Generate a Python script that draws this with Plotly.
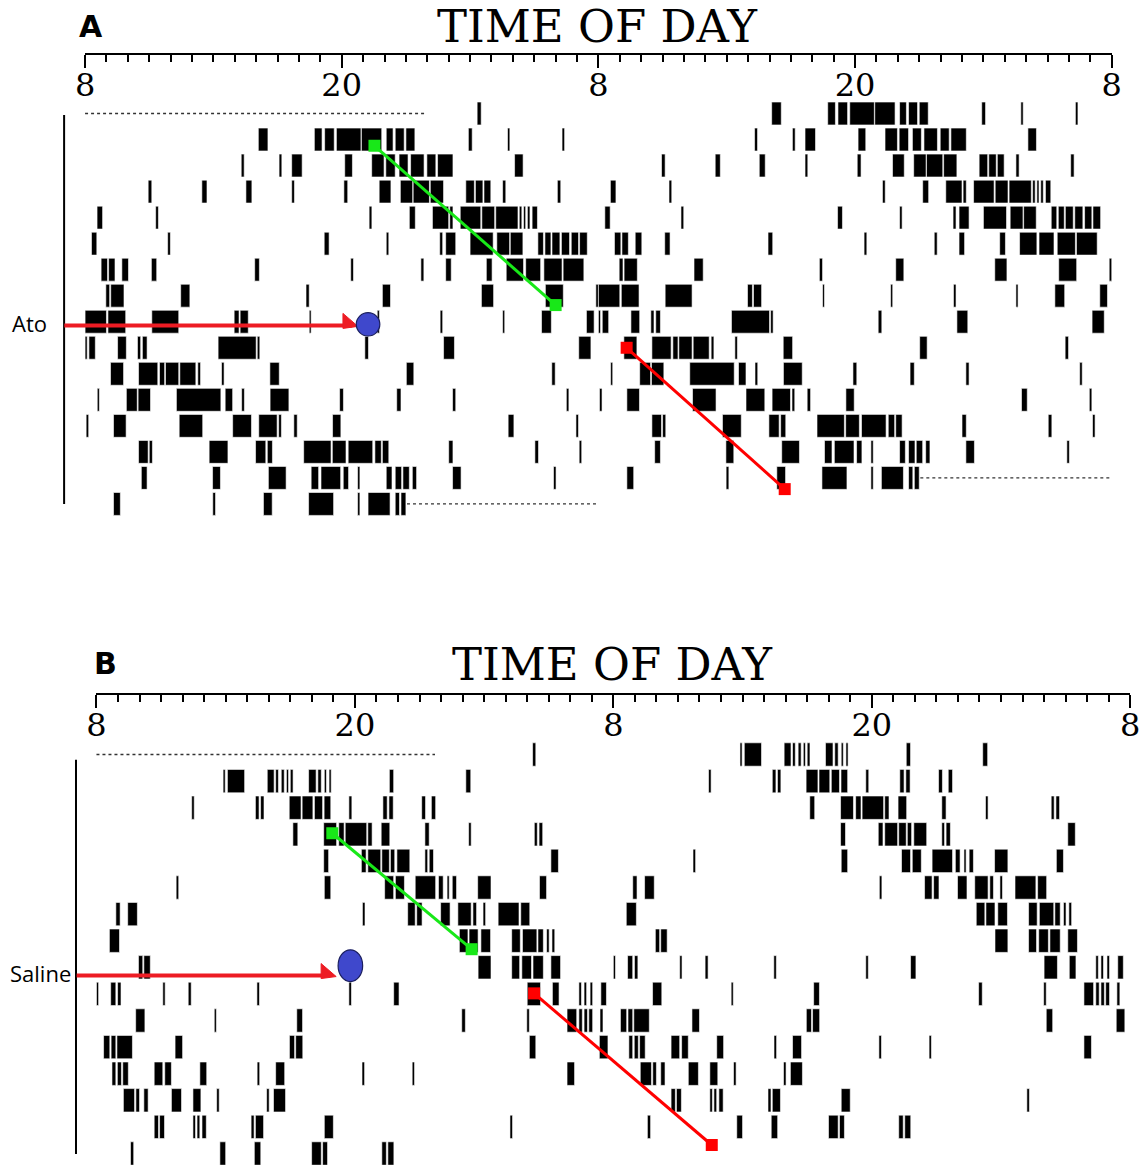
import plotly.graph_objects as go

W, H = 1144, 1165

# ---------------------------------------------------------------------------
# Activity bouts, one list per recorded day: [start, end] in hours after 08:00
# ---------------------------------------------------------------------------
# Panel A - atomoxetine animal
ato_d00 = [[18.33, 18.52]]
ato_d01 = [[8.1, 8.55], [10.72, 11.08], [11.2, 11.65], [11.75, 12.9], [12.92, 13.87], [14.08, 14.4],
           [14.5, 14.92], [15.0, 15.42], [17.92, 18.1], [19.75, 19.86], [22.3, 22.42]]
ato_d02 = [[7.3, 7.44], [9.07, 9.2], [9.66, 10.15], [12.14, 12.5], [13.4, 13.98], [14.06, 14.5],
           [14.68, 15.1], [15.22, 15.85], [15.98, 16.4], [16.48, 17.2], [20.08, 20.48]]
ato_d03 = [[2.95, 3.12], [5.46, 5.7], [7.52, 7.8], [9.66, 9.79], [12.1, 12.28], [13.75, 14.3],
           [14.74, 15.32], [15.34, 16.1], [16.14, 16.76], [17.8, 18.2], [18.25, 18.6], [18.65, 18.97],
           [19.52, 19.67], [22.08, 22.24]]
ato_d04 = [[0.56, 0.82], [3.3, 3.43], [13.28, 13.41], [15.16, 15.44], [16.24, 17.0], [17.05, 17.2],
           [17.54, 18.5], [18.55, 19.15], [19.2, 20.24], [20.3, 20.42], [20.5, 20.6], [20.68, 20.8],
           [20.9, 21.15]]
ato_d05 = [[0.3, 0.55], [3.86, 3.99], [11.18, 11.41], [14.08, 14.2], [16.58, 16.72], [16.86, 17.33],
           [18.0, 19.08], [19.25, 19.85], [19.88, 20.47], [21.17, 21.43], [21.5, 21.78], [21.83, 22.2],
           [22.27, 22.65], [22.73, 23.07], [23.12, 23.48]]
ato_d06 = [[0.75, 1.05], [1.1, 1.4], [1.72, 2.03], [3.1, 3.35], [7.93, 8.15], [12.42, 12.55],
           [15.7, 15.84], [16.86, 17.12], [18.76, 19.03], [19.69, 20.5], [20.6, 21.3], [21.45, 22.3],
           [22.35, 23.32]]
ato_d07 = [[0.97, 1.15], [1.2, 1.82], [4.47, 4.9], [10.33, 10.48], [13.9, 14.28], [18.53, 19.1],
           [21.52, 22.36], [23.88, 24.0]]
ato_d08 = [[0.0, 1.0], [1.07, 1.9], [3.12, 4.38], [6.97, 7.2], [7.25, 7.63], [10.48, 10.57],
           [13.66, 13.76], [16.6, 16.72], [19.52, 19.62], [21.34, 21.8], [23.44, 23.8]]
ato_d09 = [[0.0, 0.1], [0.18, 0.48], [1.52, 1.93], [2.45, 2.6], [2.68, 2.9], [6.22, 8.0],
           [8.05, 8.17], [13.08, 13.25], [16.76, 17.27], [23.08, 23.65]]
ato_d10 = [[1.19, 1.8], [2.5, 3.4], [3.48, 3.72], [3.76, 4.38], [4.43, 5.18], [5.27, 5.4],
           [6.38, 6.5], [8.64, 9.08], [15.02, 15.37], [21.82, 21.98]]
ato_d11 = [[0.57, 0.67], [1.93, 2.44], [2.48, 3.06], [4.27, 6.35], [6.55, 6.9], [7.32, 7.45],
           [8.65, 9.53], [11.9, 12.08], [14.57, 14.77], [17.18, 17.33], [22.5, 22.62]]
ato_d12 = [[0.05, 0.17], [1.33, 1.92], [4.4, 5.5], [6.9, 7.78], [8.12, 8.98], [9.05, 9.18],
           [9.76, 9.92], [11.57, 11.96], [19.78, 20.05], [22.95, 23.07]]
ato_d13 = [[2.5, 2.95], [3.0, 3.15], [5.8, 6.68], [7.97, 8.45], [8.52, 8.76], [10.22, 11.5],
           [11.56, 12.2], [12.3, 13.45], [13.55, 13.85], [13.9, 14.2], [17.0, 17.2], [21.03, 21.2],
           [23.1, 23.22]]
ato_d14 = [[2.63, 2.9], [5.96, 6.33], [8.57, 9.4], [10.57, 10.92], [11.03, 11.95], [12.07, 12.32],
           [12.74, 12.85], [14.08, 14.35], [14.5, 14.8], [14.86, 15.16], [15.3, 15.5], [17.18, 17.58],
           [21.9, 22.02]]
ato_d15 = [[1.33, 1.65], [5.97, 6.1], [8.34, 8.75], [10.45, 11.62], [12.74, 12.85], [13.23, 14.26],
           [14.5, 14.7], [14.77, 15.0]]
ATO_DAYS = [ato_d00, ato_d01, ato_d02, ato_d03, ato_d04, ato_d05, ato_d06, ato_d07,
            ato_d08, ato_d09, ato_d10, ato_d11, ato_d12, ato_d13, ato_d14, ato_d15]
ATO_MISSING = [[0, 0.0, 15.86], [15, 15.05, 24.0]]          # [day, start, end]

# Panel B - saline animal
sal_d00 = [[20.25, 20.4]]
sal_d01 = [[5.88, 5.98], [6.08, 6.88], [7.93, 8.25], [8.32, 8.45], [8.58, 8.72], [8.82, 8.92],
           [9.0, 9.13], [9.85, 10.2], [10.28, 10.44], [10.58, 10.68], [10.8, 10.9], [13.6, 13.8],
           [17.15, 17.38]]
sal_d02 = [[4.42, 4.54], [7.38, 7.55], [7.62, 7.78], [8.95, 9.5], [9.55, 10.05], [10.12, 10.5],
           [10.57, 10.88], [11.72, 11.86], [13.3, 13.5], [13.58, 13.78], [15.1, 15.28], [15.55, 15.75]]
sal_d03 = [[9.12, 9.35], [10.55, 11.15], [11.25, 11.5], [11.55, 12.55], [12.6, 12.8], [13.22, 13.62],
           [15.25, 15.45], [17.28, 17.4], [20.33, 20.47], [20.55, 20.72]]
sal_d04 = [[10.55, 10.78], [12.3, 12.52], [12.6, 13.2], [13.25, 13.6], [13.65, 13.85], [13.95, 14.55],
           [15.25, 15.38], [15.45, 15.65], [21.1, 21.45]]
sal_d05 = [[3.7, 3.82], [10.58, 10.88], [13.38, 13.8], [13.88, 14.3], [14.8, 15.75], [15.88, 16.1],
           [16.28, 16.38], [16.52, 16.72], [17.7, 18.32], [20.57, 20.9]]
sal_d06 = [[0.9, 1.1], [1.45, 1.9], [12.35, 12.47], [14.45, 14.8], [14.87, 15.12], [15.98, 16.42],
           [16.78, 17.4], [17.48, 17.65], [17.95, 18.07], [18.65, 19.62], [19.7, 20.12]]
sal_d07 = [[0.6, 1.07], [16.85, 17.25], [17.3, 17.72], [17.85, 18.3], [19.28, 19.68], [19.78, 20.45],
           [20.5, 20.75], [20.9, 21.02], [21.15, 21.28]]
sal_d08 = [[1.95, 2.15], [2.2, 2.5], [17.72, 18.32], [19.28, 19.65], [19.75, 20.2], [20.27, 20.75],
           [21.1, 21.55]]
sal_d09 = [[0.0, 0.1], [0.66, 0.9], [0.98, 1.14], [3.08, 3.19], [4.26, 4.4], [7.45, 7.57],
           [11.72, 11.84], [13.8, 14.05], [20.0, 20.62], [21.17, 21.48], [22.4, 22.52], [22.64, 22.76],
           [22.92, 23.04], [23.42, 23.68]]
sal_d10 = [[1.82, 2.25], [5.47, 5.57], [9.3, 9.57], [16.96, 17.13], [19.98, 20.1], [21.85, 22.3],
           [22.4, 22.56], [22.64, 22.8], [22.86, 23.04], [23.38, 23.52]]
sal_d11 = [[0.33, 0.62], [0.68, 0.9], [0.95, 1.67], [3.65, 4.0], [8.96, 9.2], [9.25, 9.58],
           [20.1, 20.4], [23.35, 23.75]]
sal_d12 = [[0.72, 0.9], [0.97, 1.16], [1.22, 1.48], [2.68, 3.08], [3.17, 3.48], [4.8, 5.12],
           [7.46, 7.58], [8.32, 8.74], [12.33, 12.45], [14.66, 14.77], [21.85, 22.2]]
sal_d13 = [[1.25, 1.77], [1.83, 2.0], [2.2, 2.4], [3.48, 3.95], [4.48, 4.85], [5.58, 5.7],
           [7.9, 8.02], [8.22, 8.78]]
sal_d14 = [[2.68, 2.88], [2.93, 3.16], [4.48, 4.6], [4.67, 4.8], [4.9, 5.1], [7.18, 7.32],
           [7.38, 7.76], [10.58, 11.0], [19.2, 19.32]]
sal_d15 = [[1.58, 1.73], [5.73, 6.0], [7.33, 7.63], [9.99, 10.44], [10.5, 10.73], [13.25, 13.46],
           [13.53, 13.81]]
SAL_DAYS = [sal_d00, sal_d01, sal_d02, sal_d03, sal_d04, sal_d05, sal_d06, sal_d07,
            sal_d08, sal_d09, sal_d10, sal_d11, sal_d12, sal_d13, sal_d14, sal_d15]
SAL_MISSING = [[0, 0.0, 15.72]]

# Time-of-day axis (48 h double plot starting at 08:00)
TICK_HOURS = [0, 12, 24, 36, 48]
TICK_TEXT = ["8", "20", "8", "20", "8"]

# Phase markers: [hour, row]
ATO_ONSET = [[13.53, 2.24], [22.0, 8.36]]
ATO_OFFSET = [[25.32, 10.0], [32.71, 15.43]]
ATO_INJECT = [13.23, 9.10]
ATO_ARROW = [-0.97, 12.76, 9.14]          # shaft start hour, tip hour, row
SAL_ONSET = [[10.95, 3.96], [17.42, 8.32]]
SAL_OFFSET = [[20.32, 9.98], [28.57, 15.68]]
SAL_INJECT = [11.79, 8.94]
SAL_ARROW = [-0.92, 11.13, 9.31]

# ---------------------------------------------------------------------------
# Page geometry (pixels): hour-0 position, pixels per hour, row-1 centre, pixels per row
# ---------------------------------------------------------------------------
PANELS = {
    "A": dict(x0=76.4, pph=21.77, y0=113.5, ppr=26.03, rows_bottom=16.6,
              axis_y=52.7, label="Ato", days=ATO_DAYS, missing=ATO_MISSING,
              onset=ATO_ONSET, offset=ATO_OFFSET, inject=ATO_INJECT, arrow=ATO_ARROW,
              inj_w=24.0, inj_h=23.3, line_rows=[1.06, 16.0], line_hour=-0.98,
              letter_xy=(68, 26), title_xy=(598, 26), label_xy=(0, 323)),
    "B": dict(x0=88.0, pph=21.92, y0=754.5, ppr=26.6, rows_bottom=16.432,
              axis_y=692.7, label="Saline", days=SAL_DAYS, missing=SAL_MISSING,
              onset=SAL_ONSET, offset=SAL_OFFSET, inject=SAL_INJECT, arrow=SAL_ARROW,
              inj_w=25.0, inj_h=31.7, line_rows=[1.2, 16.02], line_hour=-0.95,
              letter_xy=(83, 663), title_xy=(613, 664), label_xy=(-2, 973)),
}

X_LO, X_HI = -1.2, 48.3
ROW_TOP = 0.4
BAR_H = 0.88
ARROW_RED = "#ED1C24"
LINE_RED = "#FF0000"
GREEN = "#18E818"
BLUE = "#3F48CC"


def fx(p):
    return min(max(p / W, 0.0), 1.0)


def fy(p):
    return min(max(1 - p / H, 0.0), 1.0)


fig = go.Figure()
layout_axes = {}
annotations = []
shapes = []

for i, (key, P) in enumerate(PANELS.items()):
    n = i * 2
    xd, yd = f"x{n + 1 if n else ''}", f"y{n + 1 if n else ''}"
    xh, yh = f"x{n + 2}", f"y{n + 2}"
    xd_name = "xaxis" + (str(n + 1) if n else "")
    yd_name = "yaxis" + (str(n + 1) if n else "")

    # double plot: day d drawn on row d+1 (left half) and on row d (right half)
    rows, starts, lens = [], [], []
    for d, bouts in enumerate(P["days"]):
        for s, e in bouts:
            rows.append(d + 1); starts.append(s); lens.append(e - s)
            if d >= 1:
                rows.append(d); starts.append(s + 24); lens.append(e - s)
    fig.add_trace(go.Bar(
        orientation="h", y=rows, x=lens, base=starts, width=BAR_H,
        marker=dict(color="black", line=dict(color="white", width=0.6)),
        xaxis=xd, yaxis=yd, showlegend=False, hoverinfo="skip"))

    # stretches without recordings
    for d, s, e in P["missing"]:
        segs = [(d + 1, s, e)] + ([(d, s + 24, e + 24)] if d >= 1 else [])
        for r, a, b in segs:
            fig.add_trace(go.Scatter(
                x=[a, b], y=[r, r], mode="lines",
                line=dict(color="#333333", width=1.3, dash="dot"),
                xaxis=xd, yaxis=yd, showlegend=False, hoverinfo="skip"))

    # left bracket line
    fig.add_trace(go.Scatter(
        x=[P["line_hour"]] * 2, y=P["line_rows"], mode="lines",
        line=dict(color="black", width=2), xaxis=xd, yaxis=yd,
        showlegend=False, hoverinfo="skip"))

    # injection arrow (shaft + half head)
    a0, tip, ar = P["arrow"]
    head_len = 15.3 / P["pph"]
    fig.add_trace(go.Scatter(
        x=[a0, tip - head_len * 0.4], y=[ar, ar], mode="lines",
        line=dict(color=ARROW_RED, width=4), xaxis=xd, yaxis=yd,
        showlegend=False, hoverinfo="skip"))
    fig.add_trace(go.Scatter(
        x=[tip - head_len, tip - head_len, tip, tip - head_len],
        y=[ar - 12.0 / P["ppr"], ar + 3.0 / P["ppr"], ar + 1.0 / P["ppr"], ar - 12.0 / P["ppr"]],
        mode="lines", fill="toself", fillcolor=ARROW_RED, line=dict(color=ARROW_RED, width=1),
        xaxis=xd, yaxis=yd, showlegend=False, hoverinfo="skip"))

    # onset / offset trend lines
    for pts, col in ((P["onset"], GREEN), (P["offset"], LINE_RED)):
        fig.add_trace(go.Scatter(
            x=[p[0] for p in pts], y=[p[1] for p in pts], mode="lines+markers",
            line=dict(color=col, width=3),
            marker=dict(symbol="square", size=12, color=col),
            xaxis=xd, yaxis=yd, showlegend=False, hoverinfo="skip"))

    # injection time marker
    ih, ir = P["inject"]
    rw = P["inj_w"] / 2 / P["pph"]
    rh = P["inj_h"] / 2 / P["ppr"]
    shapes.append(dict(type="circle", xref=xd, yref=yd,
                       x0=ih - rw, x1=ih + rw, y0=ir - rh, y1=ir + rh,
                       fillcolor=BLUE, line=dict(color="#1B1F5E", width=1.2), layer="above"))

    # dummy trace to carry the time-of-day header axis
    fig.add_trace(go.Scatter(x=[0, 48], y=[0, 0], mode="none", xaxis=xh, yaxis=yh,
                             showlegend=False, hoverinfo="skip"))

    # data-axis extent, kept inside the page
    left_px = max(P["x0"] + X_LO * P["pph"], 0.0)
    right_px = min(P["x0"] + X_HI * P["pph"], W)
    x_lo = (left_px - P["x0"]) / P["pph"]
    x_hi = (right_px - P["x0"]) / P["pph"]
    top_px = P["y0"] + (ROW_TOP - 1) * P["ppr"]
    bot_px = min(P["y0"] + (P["rows_bottom"] - 1) * P["ppr"], H)

    layout_axes[xd_name] = dict(domain=[fx(left_px), fx(right_px)], range=[x_lo, x_hi],
                                visible=False, anchor=yd, fixedrange=True)
    layout_axes[yd_name] = dict(domain=[fy(bot_px), fy(top_px)],
                                range=[P["rows_bottom"], ROW_TOP],
                                visible=False, anchor=xd, fixedrange=True)
    layout_axes[f"xaxis{n + 2}"] = dict(
        domain=[fx(P["x0"]), fx(P["x0"] + 48 * P["pph"])], range=[0, 48], anchor=yh,
        side="bottom", showline=True, linecolor="black", linewidth=2,
        ticks="outside", ticklen=13, tickwidth=2, tickcolor="black",
        tickmode="array", tickvals=TICK_HOURS, ticktext=TICK_TEXT,
        ticklabelstandoff=-10,
        tickfont=dict(family="DejaVu Serif", size=32, color="black"),
        minor=dict(ticks="outside", ticklen=7, tickwidth=2, tickcolor="black",
                   tickmode="linear", tick0=0, dtick=1, showgrid=False),
        showgrid=False, zeroline=False, fixedrange=True)
    layout_axes[f"yaxis{n + 2}"] = dict(
        domain=[fy(P["axis_y"]), fy(P["axis_y"] - 20)], range=[0, 1],
        visible=False, anchor=xh, fixedrange=True)

    lx, ly = P["letter_xy"]
    annotations.append(dict(text=f"<b>{key}</b>", xref="paper", yref="paper",
                            x=lx / W, y=1 - ly / H, xanchor="left", yanchor="middle",
                            showarrow=False,
                            font=dict(family="DejaVu Sans", size=30, color="black")))
    tx, ty = P["title_xy"]
    annotations.append(dict(text="TIME OF DAY", xref="paper", yref="paper",
                            x=tx / W, y=1 - ty / H, xanchor="center", yanchor="middle",
                            showarrow=False,
                            font=dict(family="DejaVu Serif", size=45, color="black")))
    bx, by = P["label_xy"]
    annotations.append(dict(text=P["label"], xref="paper", yref="paper",
                            x=bx / W, y=1 - by / H, xanchor="left", yanchor="middle",
                            showarrow=False,
                            font=dict(family="Open Sans", size=22, color="black")))

fig.update_layout(
    width=W, height=H, margin=dict(l=0, r=0, t=0, b=0),
    paper_bgcolor="white", plot_bgcolor="rgba(0,0,0,0)",
    barmode="overlay", showlegend=False,
    annotations=annotations, shapes=shapes, **layout_axes)

fig.write_html(
    "out.html", config={"displayModeBar": False, "responsive": False},
    post_script=("document.documentElement.style.overflow='hidden';"
                 "document.body.style.overflow='hidden';"
                 "document.body.style.margin='0px';document.body.style.padding='0px';"))
